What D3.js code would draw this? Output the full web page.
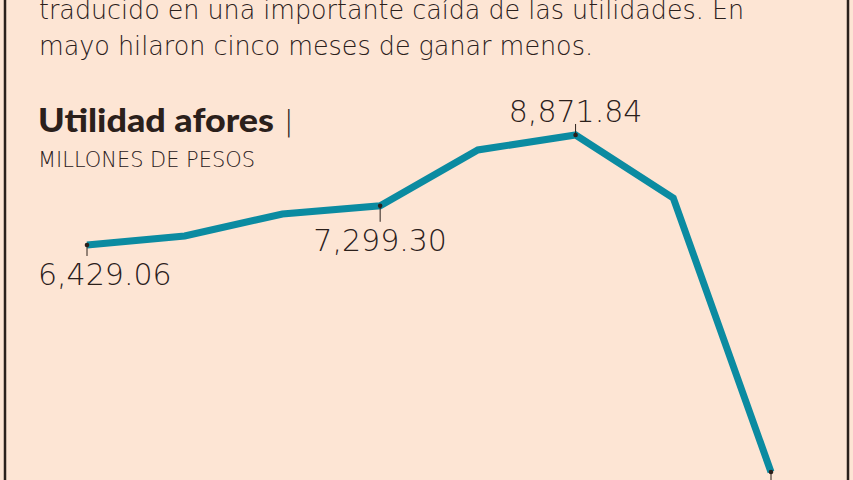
<!DOCTYPE html>
<html>
<head>
<meta charset="utf-8">
<script src="https://cdn.jsdelivr.net/npm/d3@7"></script>
<style>
  html, body { margin: 0; padding: 0; background: #fde5d4; }
  svg { display: block; }
</style>
</head>
<body>
<svg width="853" height="480"></svg>
<script>
// data
const periods = ["p1", "p2", "p3", "p4", "p5", "p6", "p7", "p8"];
const utilidad = [6429.06, 6629, 7117, 7299.30, 8539, 8871.84, 7473, 1387];
// which points carry a value label, and where
const labeled = [0, 3, 5, 7];
const labelSide = ["below", "", "", "below", "", "above", "", "below"];

const introLines = [
    "traducido en una importante caída de las utilidades. En",
    "mayo hilaron cinco meses de ganar menos."
];
const title = "Utilidad afores";
const subtitle = "MILLONES DE PESOS";

const svg = d3.select("svg"),
    width = +svg.attr("width"),
    height = +svg.attr("height"),
    ink = "#2b201b",
    thin = "'DejaVu Sans', sans-serif";

// frame
svg.append("rect").attr("width", width).attr("height", height).attr("fill", "#fde5d4");
svg.append("line").attr("x1", 5).attr("x2", 5).attr("y1", 0).attr("y2", height)
    .attr("stroke", ink).attr("stroke-width", 2.5);
svg.append("line").attr("x1", 848).attr("x2", 848).attr("y1", 0).attr("y2", height)
    .attr("stroke", ink).attr("stroke-width", 2.5);

// intro text (lengths)
const introWidths = [705, 554];
svg.append("g").selectAll("text")
    .data(introLines)
    .enter().append("text")
    .attr("x", 39)
    .attr("y", (d, i) => 19 + i * 36)
    .attr("font-family", thin)
    .attr("font-weight", 200)
    .attr("font-size", 27)
    .attr("textLength", (d, i) => introWidths[i])
    .attr("lengthAdjust", "spacingAndGlyphs")
    .attr("fill", ink)
    .text(d => d);

// heading
svg.append("text")
    .attr("x", 38).attr("y", 132)
    .attr("font-family", "Lato, sans-serif")
    .attr("font-weight", 900)
    .attr("font-size", 32)
    .attr("textLength", 236)
    .attr("lengthAdjust", "spacingAndGlyphs")
    .attr("fill", ink)
    .text(title);
svg.append("text")
    .attr("x", 284).attr("y", 131)
    .attr("font-family", thin)
    .attr("font-weight", 200)
    .attr("font-size", 28)
    .attr("fill", ink)
    .text("|");
svg.append("text")
    .attr("x", 38).attr("y", 167)
    .attr("font-family", thin)
    .attr("font-weight", 200)
    .attr("font-size", 21)
    .attr("textLength", 217)
    .attr("lengthAdjust", "spacingAndGlyphs")
    .attr("fill", ink)
    .text(subtitle);

// scales
const x = d3.scalePoint().domain(periods).range([87, 771]);
const y = d3.scaleLinear().domain([0, 9000]).range([534.5, 129.2]);

// line
const line = d3.line()
    .x((d, i) => x(periods[i]))
    .y(d => y(d));

svg.append("path")
    .datum(utilidad)
    .attr("d", line)
    .attr("fill", "none")
    .attr("stroke", "#0b8ba1")
    .attr("stroke-width", 7)
    .attr("stroke-linejoin", "miter");

// value labels with ticks
const fmt = d3.format(",.2f");
const lab = svg.append("g");
labeled.forEach(i => {
    const px = x(periods[i]), py = y(utilidad[i]);
    const below = labelSide[i] === "below";
    const tickLen = i === 3 ? 16 : 11;
    lab.append("line")
        .attr("x1", px).attr("x2", px)
        .attr("y1", py).attr("y2", below ? py + tickLen : py - tickLen)
        .attr("stroke", ink).attr("stroke-width", 1);
    lab.append("circle")
        .attr("cx", px).attr("cy", py).attr("r", 2.3).attr("fill", ink);
    if (i === utilidad.length - 1) return; // its label falls below the frame
    const t = lab.append("text")
        .attr("y", below ? py + tickLen + 29 : py - 13)
        .attr("font-family", thin)
        .attr("font-weight", 200)
        .attr("font-size", 30)
        .attr("fill", ink)
        .text(fmt(utilidad[i]));
    const w = t.node().getComputedTextLength();
    t.attr("x", Math.max(px - w / 2, 38));
});
</script>
</body>
</html>
